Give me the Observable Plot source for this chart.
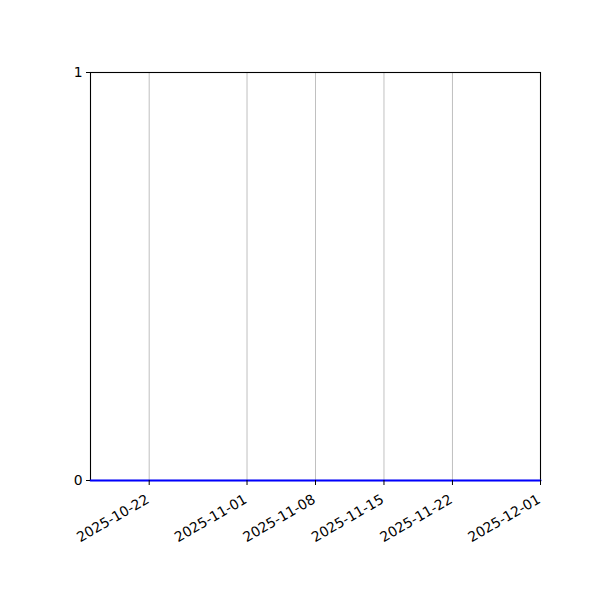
<!DOCTYPE html>
<html>
<head>
<meta charset="utf-8">
<script src="https://cdn.jsdelivr.net/npm/d3@7"></script>
<script src="https://cdn.jsdelivr.net/npm/@observablehq/plot@0.6"></script>
<style>
  html, body { margin: 0; padding: 0; background: #fff; }
  #chart { width: 600px; height: 600px; }
</style>
</head>
<body>
<div id="chart"></div>
<script>
const dates = ["2025-10-16", "2025-12-01"];
const values = [0, 0];
const xTickLabels = ["2025-10-22", "2025-11-01", "2025-11-08", "2025-11-15", "2025-11-22", "2025-12-01"];
const yTicks = [0, 1];

const parse = d3.utcParse("%Y-%m-%d");
const data = dates.map((d, i) => ({date: parse(d), value: values[i]}));
const xTicks = xTickLabels.map(parse);
const fmt = d3.utcFormat("%Y-%m-%d");

const chart = Plot.plot({
  width: 600,
  height: 600,
  marginLeft: 90,
  marginRight: 60,
  marginTop: 72,
  marginBottom: 120,
  style: {fontFamily: "DejaVu Sans", fontSize: "13.9px", background: "#fff", color: "#000"},
  x: {type: "utc", domain: [parse("2025-10-16"), parse("2025-12-01")]},
  y: {domain: [0, 1]},
  marks: [
    Plot.ruleX(xTicks, {stroke: "#b0b0b0", strokeWidth: 0.8}),
    Plot.frame({stroke: "#000", strokeWidth: 1.1}),
    Plot.line(data, {x: "date", y: "value", stroke: "#0000ff", strokeWidth: 2.1}),
    Plot.axisY({ticks: yTicks, tickFormat: d3.format("d"), tickSize: 4, tickPadding: 4, label: null, fontSize: 13.9}),
    Plot.axisX({ticks: xTicks, tickFormat: null, text: null, tickSize: 5, label: null}),
    Plot.text(xTicks, {
      x: d => d, frameAnchor: "bottom", text: d => fmt(d),
      textAnchor: "end", lineAnchor: "top", rotate: -30,
      dx: -4, dy: 13, fontSize: 13.9, fill: "#000"
    })
  ]
});
document.getElementById("chart").appendChild(chart);
</script>
</body>
</html>
